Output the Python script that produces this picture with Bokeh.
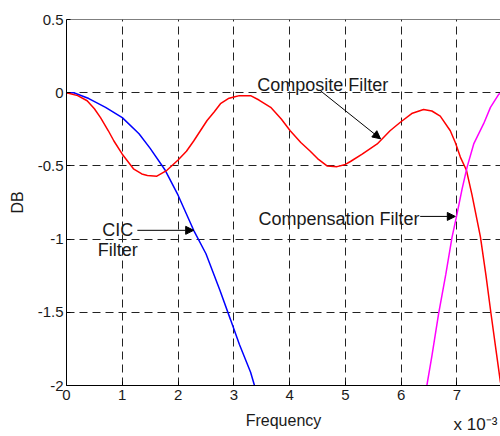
import math
from bokeh.plotting import figure
from bokeh.models import Range1d, FixedTicker, Span, Label, Arrow, NormalHead, LinearAxis
from bokeh.embed import file_html
from bokeh.resources import INLINE

# ---- data (frequency in units of 1e-3) ----
cic_x = [0, 0.13, 0.4, 0.7, 1.0, 1.3, 1.5, 1.77, 2.0, 2.28, 2.5, 2.75, 2.94, 3.1, 3.3, 3.37]
cic_y = [0, 0, -0.04, -0.1, -0.17, -0.28, -0.38, -0.53, -0.70, -0.94, -1.1, -1.35, -1.55, -1.72, -1.91, -2.0]

comp_x = [6.46, 6.55, 6.67, 6.8, 6.91, 7.0, 7.09, 7.18, 7.3, 7.48, 7.6, 7.75, 7.8]
comp_y = [-2.0, -1.8, -1.51, -1.24, -0.99, -0.83, -0.66, -0.51, -0.35, -0.21, -0.1, -0.01, 0.0]

composite_x = [0, 0.2, 0.37, 0.5, 0.61, 0.75, 0.85, 1.0, 1.2, 1.35, 1.45, 1.62, 1.8, 2.0,
               2.15, 2.28, 2.4, 2.52, 2.65, 2.76, 2.9, 3.0, 3.1, 3.24, 3.3, 3.45, 3.66,
               3.85, 4.01, 4.2, 4.37, 4.5, 4.67, 4.85, 5.0, 5.09, 5.3, 5.57, 5.8, 5.99,
               6.2, 6.4, 6.55, 6.7, 6.88, 6.97, 7.06, 7.17, 7.27, 7.36, 7.42, 7.52,
               7.61, 7.7, 7.78]
composite_y = [0, -0.02, -0.055, -0.11, -0.17, -0.26, -0.33, -0.42, -0.52, -0.555, -0.565,
               -0.57, -0.53, -0.46, -0.40, -0.33, -0.26, -0.19, -0.13, -0.075, -0.04,
               -0.03, -0.02, -0.02, -0.02, -0.05, -0.1, -0.18, -0.26, -0.34, -0.4, -0.45,
               -0.5, -0.505, -0.49, -0.47, -0.42, -0.35, -0.26, -0.2, -0.14, -0.115,
               -0.125, -0.16, -0.26, -0.34, -0.44, -0.53, -0.70, -0.87, -0.985, -1.25,
               -1.51, -1.76, -1.98]

x_ticks = [0, 1, 2, 3, 4, 5, 6, 7]
x_tick_labels = ["0", "1", "2", "3", "4", "5", "6", "7"]
y_ticks = [-2.0, -1.5, -1.0, -0.5, 0.0, 0.5]
y_tick_labels = ["-2", "-1.5", "-1", "-0.5", "0", "0.5"]
x_scale_label = "x 10\u207b\u00b3"

FONT = "Liberation Sans"

p = figure(width=500, height=436, output_backend="svg", toolbar_location=None,
           x_range=Range1d(0, 7.78), y_range=Range1d(-2, 0.5),
           min_border_left=66, min_border_right=0, min_border_top=19, min_border_bottom=50)
p.outline_line_color = None
p.background_fill_color = "white"
p.border_fill_color = "white"

for ax in (p.xaxis[0], p.yaxis[0]):
    ax.axis_line_color = "black"
    ax.axis_line_width = 1
    ax.major_tick_in = 4
    ax.major_tick_out = 0
    ax.minor_tick_line_color = None
    ax.major_tick_line_color = "black"
    ax.major_label_text_font = FONT
    ax.major_label_text_font_size = "15px"
    ax.major_label_text_color = "#1a1a1a"
    ax.axis_label_text_font = FONT
    ax.axis_label_text_font_size = "16px"
    ax.axis_label_text_font_style = "normal"
    ax.axis_label_text_color = "#1a1a1a"

p.xaxis.ticker = FixedTicker(ticks=x_ticks)
p.yaxis.ticker = FixedTicker(ticks=y_ticks)
p.xaxis.major_label_overrides = {t: l for t, l in zip(x_ticks, x_tick_labels)}
p.yaxis.major_label_overrides = {t: l for t, l in zip(y_ticks, y_tick_labels)}
p.xaxis.major_label_standoff = 4
p.yaxis.major_label_standoff = 3
p.xaxis.axis_label = "Frequency"
p.xaxis.axis_label_standoff = 9
p.yaxis.axis_label = "DB"
p.yaxis.axis_label_standoff = 9

# exponent label as a second (tick-less) axis below, pulled up with a negative standoff
scale_pos = 7.33
ax2 = LinearAxis(ticker=FixedTicker(ticks=[scale_pos]),
                 major_label_overrides={scale_pos: x_scale_label},
                 axis_line_color=None, major_tick_line_color=None,
                 minor_tick_line_color=None, major_tick_in=0, major_tick_out=0,
                 major_label_standoff=-17, major_label_text_font=FONT,
                 major_label_text_font_size="17px", major_label_text_color="#1a1a1a")
p.add_layout(ax2, "below")

for g in (p.xgrid[0], p.ygrid[0]):
    g.grid_line_color = "#222222"
    g.grid_line_dash = "8 5"
    g.grid_line_width = 1
p.xgrid.ticker = FixedTicker(ticks=x_ticks)
p.ygrid.ticker = FixedTicker(ticks=y_ticks)

p.add_layout(Span(location=0.5, dimension="width", line_color="black", line_width=1))

p.line(cic_x, cic_y, line_color="#0000ff", line_width=1.5)
p.line(composite_x, composite_y, line_color="#ff0000", line_width=1.5)
p.line(comp_x, comp_y, line_color="#ff00ff", line_width=1.5)

# annotations
def lab(x, y, text, size="18px", align="left", baseline="alphabetic"):
    p.add_layout(Label(x=x, y=y, text=text, text_font=FONT, text_font_size=size,
                       text_align=align, text_baseline=baseline, text_color="#1a1a1a"))

lab(3.42, 0.054, "Composite Filter")
lab(3.44, -0.86, "Compensation Filter")
lab(0.92, -0.94, "CIC", align="center")
lab(0.92, -1.075, "Filter", align="center")

def arr(x0, y0, x1, y1):
    p.add_layout(Arrow(end=NormalHead(size=8, fill_color="black", line_color="black"),
                       x_start=x0, y_start=y0, x_end=x1, y_end=y1,
                       line_color="black", line_width=1))

arr(4.55, 0.014, 5.63, -0.315)
arr(6.34, -0.845, 6.97, -0.845)
arr(1.27, -0.94, 2.28, -0.94)

open("out.html", "w").write(file_html(p, INLINE))
